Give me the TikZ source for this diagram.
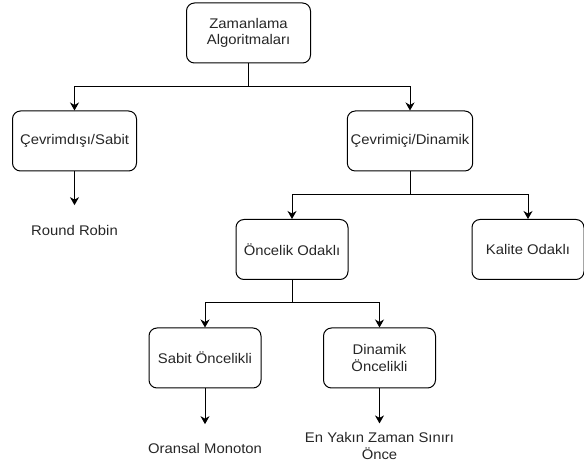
\documentclass[tikz,border=0pt]{standalone}
\usepackage{fontspec}
\setmainfont{Liberation Sans}[FakeStretch=1.06]
\usetikzlibrary{arrows.meta, positioning}

\begin{document}
\begin{tikzpicture}[x=1pt, y=-1pt, >={Stealth[length=8pt, width=9pt, inset=2.5pt]},
    font=\fontsize{14}{16.5}\selectfont, text=black!85,
    algbox/.style={rectangle, rounded corners=8pt, draw, line width=1pt, align=center, minimum height=60pt},
    wide/.style={algbox, minimum width=124pt},
    narrow/.style={algbox, minimum width=112pt},
    leaf/.style={align=center, inner sep=0pt},
    link/.style={->, line width=1pt}]

\useasboundingbox (0,0) rectangle (584,470);

% Algorithm classes
\node[wide] (root) at (248.5,33) {Zamanlama\\Algoritmaları};
\node[wide] (offline) at (74.5,141) {Çevrimdışı/Sabit};
\node[wide] (online) at (410,141) {Çevrimiçi/Dinamik};
\node[narrow] (prio) at (292,249.5) {Öncelik Odaklı};
\node[narrow] (quality) at (528,249.5) {Kalite Odaklı};
\node[narrow] (fixedprio) at (205,358) {Sabit Öncelikli};
\node[narrow] (dynprio) at (379.5,358) {Dinamik\\Öncelikli};

% Example algorithms
\node[leaf] (rr) at (74.5,230.5) {Round Robin};
\node[leaf] (rm) at (205,448.5) {Oransal Monoton};
\node[leaf] (edf) at (379.5,446) {En Yakın Zaman Sınırı\\Önce};

% Tree connectors
\draw[link] (root.south) -- ++(0,23.5) -| (offline.north);
\draw[link] (root.south) -- ++(0,23.5) -| (online.north);
\draw[link] (online.south) -- ++(0,23) -| (prio.north);
\draw[link] (online.south) -- ++(0,23) -| (quality.north);
\draw[link] (prio.south) -- ++(0,23) -| (fixedprio.north);
\draw[link] (prio.south) -- ++(0,23) -| (dynprio.north);

% Arrows to examples
\draw[link, shorten >=20pt] (offline) -- (rr);
\draw[link, shorten >=19pt] (fixedprio) -- (rm);
\draw[link, shorten >=9pt] (dynprio) -- (edf);

\end{tikzpicture}
\end{document}
